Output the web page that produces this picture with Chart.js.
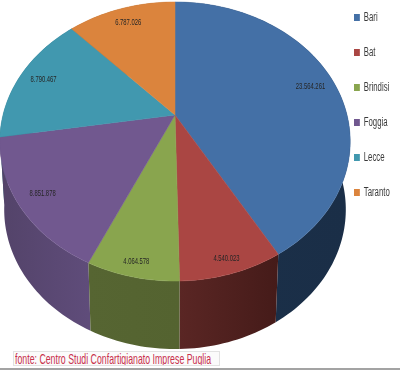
<!DOCTYPE html>
<html>
<head>
<meta charset="utf-8">
<script src="https://cdn.jsdelivr.net/npm/chart.js@4"></script>
<style>
  html, body { margin: 0; background: #fff; }
  #wrap { position: relative; width: 400px; height: 370px; overflow: hidden; }
  #fonte {
    position: absolute; left: 13px; top: 351px; width: 207px; height: 15px;
    box-sizing: border-box; border: 1px solid #e2e2e2; background: #fbfbfb;
    color: #c9304c; font: 15px/13px "Liberation Sans", sans-serif;
    white-space: nowrap; overflow: hidden;
  }
  #fonte span { display: inline-block; margin-left: 1px; transform: scaleX(0.585); transform-origin: left center; }
  #rule { position: absolute; left: 0; top: 368px; width: 400px; height: 2px; background: #a3a3a3; }
</style>
</head>
<body>
<div id="wrap">
  <canvas id="myChart" width="400" height="370"></canvas>
  <div id="fonte"><span>fonte: Centro Studi Confartigianato Imprese Puglia</span></div>
  <div id="rule"></div>
</div>
<script>
const categories = ["Bari", "Bat", "Brindisi", "Foggia", "Lecce", "Taranto"];
const values = [23564261, 4540023, 4064578, 8851878, 8790467, 6787026];
const valueLabels = ["23.564.261", "4.540.023", "4.064.578", "8.851.878", "8.790.467", "6.787.026"];

const topColors = ["#4470a6", "#aa4643", "#89a54e", "#71588f", "#4198af", "#db843d"];
const sideColors = [
  ["#1b3049", "#1a2e47"], ["#5a2624", "#451b19"], ["#566532", "#546330"],
  ["#534369", "#5f4c7a"], ["#2d6b7c", "#2d6b7c"], ["#9a5c2a", "#9a5c2a"],
];
const labelRadius = [0.85, 0.92, 0.92, 0.87, 0.85, 0.85];

// the tilted pie: unit circle goes through a perspective mapping
const view = { cx: 175, cy: 115, bx: 172, by: 134.5, k: 0.19, depth: 68, shrink: 0.975 };
const squeeze = 0.65; // reference text is squashed horizontally
const legendX = 354;

function project(u, v) {
  const den = 1 - view.k * v;
  return { x: view.cx + (view.bx * u) / den, y: view.cy + (view.by * v) / den };
}

function rimPoints(arc) {
  const steps = Math.max(8, Math.ceil((arc.endAngle - arc.startAngle) * 40));
  const pts = [];
  for (let i = 0; i <= steps; i++) {
    const a = arc.startAngle + ((arc.endAngle - arc.startAngle) * i) / steps;
    pts.push(project(Math.cos(a), Math.sin(a)));
  }
  return pts;
}

const tiltedPie = {
  id: "tiltedPie",
  afterLayout(chart) {
    const legend = chart.legend;
    legend.left = legendX - legend.options.labels.padding;
    legend.top = 11.5 - legend.options.labels.padding;
    legend.right = legendX + 300; // the squeeze needs room, legend clips to its box
    legend.width = legend.right - legend.left;
    if (!legend.squeezed) {
      const drawLegend = legend.draw.bind(legend);
      legend.draw = function () {
        const ctx = chart.ctx;
        ctx.save();
        ctx.translate(legendX, 0);
        ctx.scale(squeeze, 1);
        ctx.translate(-legendX, 0);
        drawLegend();
        ctx.restore();
      };
      legend.squeezed = true;
    }
  },
  beforeDatasetsDraw(chart) {
    const ctx = chart.ctx;
    const arcs = chart.getDatasetMeta(0).data;

    // side wall first, back slices before front ones
    const backToFront = arcs
      .map((arc, i) => ({ arc, i, mid: Math.sin((arc.startAngle + arc.endAngle) / 2) }))
      .sort((a, b) => a.mid - b.mid);
    backToFront.forEach(({ arc, i }) => {
      const pts = rimPoints(arc);
      const xs = pts.map((p) => p.x);
      const grad = ctx.createLinearGradient(Math.min(...xs), 0, Math.max(...xs), 0);
      grad.addColorStop(0, sideColors[i][0]);
      grad.addColorStop(1, sideColors[i][1]);
      ctx.beginPath();
      pts.forEach((p, n) => (n ? ctx.lineTo(p.x, p.y) : ctx.moveTo(p.x, p.y)));
      pts.slice().reverse().forEach((p) => {
        ctx.lineTo(view.cx + (p.x - view.cx) * view.shrink, p.y + view.depth);
      });
      ctx.closePath();
      ctx.fillStyle = grad;
      ctx.fill();
    });

    // top face
    arcs.forEach((arc, i) => {
      ctx.beginPath();
      ctx.moveTo(view.cx, view.cy);
      rimPoints(arc).forEach((p) => ctx.lineTo(p.x, p.y));
      ctx.closePath();
      ctx.fillStyle = topColors[i];
      ctx.strokeStyle = topColors[i];
      ctx.lineWidth = 0.5;
      ctx.fill();
      ctx.stroke();
    });

    // value labels
    ctx.fillStyle = "#262626";
    ctx.font = '9px "Liberation Sans", sans-serif';
    ctx.textAlign = "center";
    ctx.textBaseline = "middle";
    arcs.forEach((arc, i) => {
      const mid = (arc.startAngle + arc.endAngle) / 2;
      const p = project(labelRadius[i] * Math.cos(mid), labelRadius[i] * Math.sin(mid));
      ctx.save();
      ctx.translate(p.x, p.y);
      ctx.scale(squeeze, 1);
      ctx.fillText(valueLabels[i], 0, 0);
      ctx.restore();
    });
    return false;
  },
};

new Chart("myChart", {
  type: "pie",
  data: {
    labels: categories,
    datasets: [{ data: values, backgroundColor: topColors, borderWidth: 0 }],
  },
  options: {
    responsive: false,
    animation: false,
    plugins: {
      tooltip: { enabled: false },
      legend: {
        position: "right",
        align: "start",
        labels: {
          boxWidth: 9,
          boxHeight: 7,
          padding: 23,
          color: "#3a3a3a",
          font: { family: '"Liberation Sans", sans-serif', size: 12 },
        },
      },
    },
  },
  plugins: [tiltedPie],
});
</script>
</body>
</html>
